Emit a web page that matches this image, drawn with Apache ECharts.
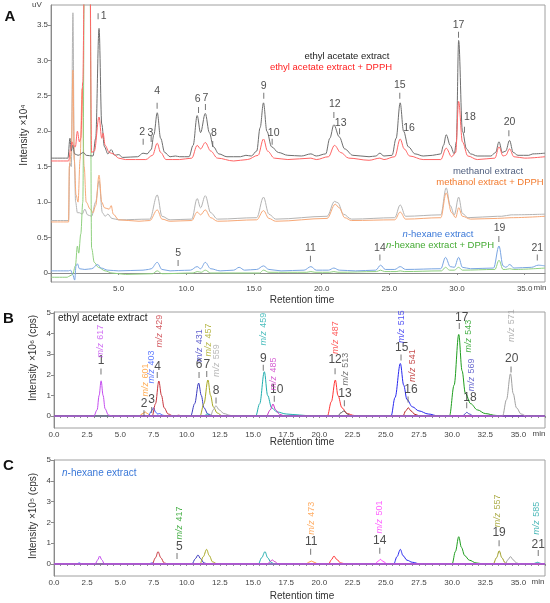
<!DOCTYPE html>
<html><head><meta charset="utf-8">
<script src="https://cdn.jsdelivr.net/npm/echarts@6/dist/echarts.min.js"></script>
<style>html,body{margin:0;padding:0;background:#fff}#c{width:550px;height:603px}</style>
</head><body><div id="c"></div>
<script>
// ---------- Panel A: UV chromatograms (retention time min, intensity x10^4, offsets as drawn) ----------
const A_EA = [[0,1.62],[1.25,1.62],[1.4,1.9],[1.5,1.72],[1.6,1.8],[1.75,1.68],[2.0,1.66],[2.4,1.7],[2.6,1.66],[3.1,1.65],[3.3,1.9],[3.55,3.45],[3.75,2.1],[3.95,1.78],[4.2,1.68],[4.45,1.74],[4.7,1.66],[5.0,1.67],[5.3,1.63],[6.4,1.64],[6.8,1.69],[7.1,1.68],[7.4,1.74],[7.6,1.95],[7.85,2.26],[8.1,1.9],[8.4,1.7],[8.8,1.64],[9.2,1.65],[9.5,1.64],[10.2,1.64],[10.5,1.8],[10.8,2.22],[11.05,1.98],[11.4,2.25],[11.7,1.98],[12.0,1.78],[12.4,1.68],[13.0,1.64],[14.0,1.64],[14.4,1.66],[14.8,1.65],[15.2,1.72],[15.45,2.05],[15.7,2.40],[15.95,2.0],[16.3,1.78],[16.8,1.7],[17.5,1.66],[18.5,1.65],[19.2,1.68],[19.6,1.65],[20.3,1.68],[20.6,1.9],[20.9,2.09],[21.3,1.92],[21.7,1.75],[22.3,1.66],[23.5,1.64],[24.0,1.65],[24.3,1.69],[24.6,1.65],[25.2,1.66],[25.5,1.9],[25.8,2.40],[26.05,2.0],[26.4,1.78],[26.9,1.68],[27.5,1.65],[28.2,1.66],[28.8,1.68],[29.0,1.8],[29.2,1.95],[29.5,1.8],[29.8,1.68],[29.95,1.85],[30.12,3.28],[30.4,2.0],[30.7,1.75],[31.0,1.68],[31.5,1.65],[32.5,1.65],[32.85,1.7],[33.1,1.85],[33.35,1.7],[33.6,1.72],[33.88,1.87],[34.15,1.7],[34.5,1.66],[35.3,1.66],[35.6,1.68],[36.5,1.69]];
const A_EA_DPPH = [[0,1.58],[1.3,1.58],[1.45,1.75],[1.55,1.85],[1.65,1.8],[1.8,1.78],[1.95,2.0],[2.1,1.85],[2.2,1.9],[2.35,2.7],[2.47,4.3],[2.88,4.3],[3.0,1.7],[3.2,1.72],[3.55,2.2],[3.75,1.9],[3.85,1.97],[4.0,1.8],[4.3,1.7],[4.6,1.68],[5.0,1.62],[5.5,1.6],[7.0,1.6],[7.5,1.66],[7.85,1.83],[8.1,1.7],[8.5,1.6],[9.5,1.6],[10.4,1.62],[10.8,1.8],[11.05,1.75],[11.4,1.84],[11.8,1.72],[12.3,1.62],[13.5,1.58],[14.5,1.6],[15.3,1.66],[15.7,1.89],[16.0,1.72],[16.5,1.62],[17.5,1.6],[19.2,1.62],[19.6,1.6],[20.5,1.64],[20.95,1.8],[21.4,1.7],[22.0,1.62],[23.5,1.59],[24.3,1.62],[24.6,1.6],[25.4,1.64],[25.8,1.89],[26.1,1.75],[26.5,1.65],[27.5,1.6],[28.8,1.6],[29.2,1.76],[29.6,1.64],[29.9,1.7],[30.12,2.42],[30.4,1.85],[30.8,1.65],[31.5,1.6],[32.8,1.62],[33.1,1.78],[33.4,1.65],[33.6,1.66],[33.88,1.75],[34.2,1.64],[35.0,1.62],[36.5,1.64]];
const A_MEOH = [[0,0.74],[1.3,0.74],[1.38,1.55],[1.5,1.5],[1.62,3.67],[1.72,1.6],[1.82,1.0],[1.95,0.85],[2.1,0.85],[2.3,0.83],[2.5,0.9],[2.7,0.82],[3.0,0.8],[3.3,1.0],[3.55,1.3],[3.8,0.85],[4.0,0.8],[4.2,0.83],[4.5,0.77],[5.0,0.75],[7.3,0.76],[7.85,1.1],[8.2,0.8],[8.8,0.75],[10.4,0.76],[10.8,1.05],[11.05,0.92],[11.4,1.09],[11.8,0.85],[12.3,0.76],[15.2,0.78],[15.7,1.07],[16.1,0.83],[16.6,0.76],[20.4,0.8],[20.95,1.01],[21.2,0.99],[21.6,0.83],[22.2,0.76],[25.4,0.78],[25.8,0.96],[26.2,0.8],[28.8,0.82],[29.2,1.2],[29.5,0.95],[29.8,0.82],[30.12,1.07],[30.4,0.84],[30.8,0.78],[33.0,0.8],[33.3,0.8],[34.0,0.82],[36.5,0.83]];
const A_MEOH_DPPH = [[0,0.72],[1.3,0.72],[1.35,1.5],[1.5,1.7],[1.62,2.86],[1.72,1.6],[1.85,1.1],[2.0,1.0],[2.15,1.6],[2.3,2.6],[2.45,1.5],[2.6,1.0],[2.9,0.9],[3.1,0.85],[3.3,0.95],[3.55,1.38],[3.75,1.0],[3.95,0.92],[4.3,0.9],[4.45,0.95],[4.6,0.83],[5.0,0.75],[6.5,0.73],[7.3,0.74],[7.85,0.89],[8.2,0.76],[8.8,0.73],[10.4,0.74],[10.8,0.86],[11.05,0.82],[11.4,0.89],[11.8,0.78],[12.3,0.73],[15.2,0.75],[15.7,0.88],[16.1,0.77],[16.6,0.73],[20.4,0.77],[21.0,0.97],[21.3,0.92],[21.7,0.78],[22.2,0.74],[25.4,0.75],[25.8,0.86],[26.2,0.76],[28.8,0.78],[29.2,1.13],[29.6,0.85],[29.9,0.78],[30.12,0.92],[30.4,0.8],[31.0,0.76],[33.0,0.77],[34.0,0.78],[36.5,0.8]];
const A_HEX = [[0,0.03],[1.3,0.03],[1.45,0.04],[1.6,-0.02],[1.75,-0.1],[1.85,0.1],[1.95,0.13],[2.1,0.06],[2.5,0.05],[3.0,0.06],[3.45,0.12],[3.7,0.07],[4.2,0.04],[5.0,0.03],[6.8,0.04],[7.2,0.05],[7.4,0.06],[7.85,0.15],[8.2,0.05],[8.8,0.03],[9.4,0.035],[10.3,0.04],[10.8,0.09],[11.05,0.06],[11.4,0.15],[11.8,0.06],[12.5,0.03],[13.5,0.04],[13.9,0.08],[14.3,0.04],[15.2,0.05],[15.7,0.1],[16.1,0.05],[17.0,0.03],[18.7,0.04],[19.2,0.09],[19.6,0.04],[20.5,0.04],[20.9,0.07],[21.3,0.04],[22.5,0.03],[24.0,0.04],[24.35,0.11],[24.7,0.05],[25.4,0.05],[25.8,0.09],[26.2,0.05],[28.8,0.06],[29.15,0.22],[29.5,0.09],[29.8,0.08],[30.12,0.22],[30.4,0.08],[31.0,0.06],[32.7,0.07],[33.1,0.38],[33.4,0.1],[33.6,0.08],[33.9,0.12],[34.2,0.07],[35.5,0.08],[36.0,0.11],[36.5,0.1]];
const A_HEX_DPPH = [[0,-0.06],[1.2,-0.06],[1.4,-0.04],[1.6,-0.02],[1.8,0.1],[1.95,0.38],[2.05,0.28],[2.2,0.55],[2.35,1.0],[2.47,4.3],[2.88,4.3],[3.0,0.35],[3.2,0.15],[3.5,0.08],[4.0,0.03],[4.5,0.0],[5.5,-0.02],[7.5,-0.01],[7.85,0.03],[8.2,-0.01],[10.5,0.0],[10.8,0.02],[11.1,0.01],[11.4,0.04],[11.8,0.0],[15.4,0.0],[15.7,0.04],[16.1,0.01],[18.9,0.01],[19.2,0.02],[19.5,0.01],[20.6,0.01],[20.9,0.02],[21.2,0.01],[24.05,0.02],[24.35,0.04],[24.65,0.02],[25.5,0.02],[25.8,0.03],[26.1,0.02],[28.85,0.03],[29.15,0.08],[29.45,0.04],[29.8,0.04],[30.12,0.08],[30.4,0.04],[32.8,0.05],[33.1,0.18],[33.4,0.05],[33.6,0.05],[33.9,0.06],[34.2,0.05],[36.5,0.07]];

const A_PEAK_LABELS = [['1',3.9,3.62],['2',6.73,1.99],['3',7.35,1.98],['4',7.84,2.56],['5',9.39,0.28],['6',10.84,2.45],['7',11.41,2.47],['8',12.03,1.97],['9',15.72,2.64],['10',16.45,1.98],['11',19.17,0.35],['12',20.97,2.38],['13',21.4,2.12],['14',24.3,0.35],['15',25.77,2.65],['16',26.45,2.04],['17',30.11,3.5],['18',30.95,2.2],['19',33.14,0.63],['20',33.88,2.13],['21',35.93,0.35]];
const A_PEAK_TICKS = [[3.48,3.62],[6.81,1.85],[7.4,1.89],[7.84,2.36],[9.39,0.14],[10.9,2.3],[11.41,2.34],[11.95,1.82],[15.72,2.5],[16.34,1.85],[19.17,0.2],[20.9,2.23],[21.32,2.0],[24.3,0.22],[25.77,2.5],[30.11,3.36],[30.55,2.02],[33.09,0.48],[33.83,1.97],[35.93,0.22]];

// ---------- Panel B: ethyl acetate extract EICs (x10^6 cps) ----------
const B_MZ617 = [[0,0],[3.0,0],[3.25,0.3],[3.4,1.0],[3.55,1.71],[3.7,1.0],[3.85,0.35],[4.1,0.05],[4.4,0],[37,0]];
const B_MZ601 = [[0,0],[6.4,0],[6.7,0.12],[6.86,0.2],[7.05,0.12],[7.3,0],[37,0]];
const B_MZ403 = [[0,0],[7.1,0],[7.35,0.25],[7.5,0.4],[7.65,0.2],[7.8,0.1],[7.95,0.12],[8.2,0.04],[8.5,0],[37,0]];
const B_MZ429 = [[0,0],[7.4,0],[7.65,0.6],[7.9,1.7],[8.1,1.0],[8.3,0.4],[8.6,0.1],[9.0,0],[9.4,0.04],[9.7,0],[37,0]];
const B_MZ431 = [[0,0],[10.3,0],[10.6,0.6],[10.9,1.6],[11.1,1.0],[11.3,0.4],[11.6,0.1],[12.0,0],[37,0]];
const B_MZ457 = [[0,0],[11.0,0],[11.3,0.6],[11.6,1.75],[11.8,1.0],[12.0,0.45],[12.3,0.15],[12.7,0],[37,0]];
const B_MZ559 = [[0,0],[11.8,0],[12.0,0.3],[12.2,0.5],[12.45,0.3],[12.8,0.12],[13.3,0.03],[13.8,0],[37,0]];
const B_MZ459 = [[0,0],[11.3,0],[11.55,0.1],[11.8,0],[15.2,0],[15.5,0.6],[15.85,2.15],[16.1,1.0],[16.4,0.4],[16.8,0.2],[17.5,0.1],[18.5,0.05],[19.5,0],[37,0]];
const B_MZ485 = [[0,0],[16.0,0],[16.3,0.3],[16.5,0.58],[16.7,0.3],[17.0,0.08],[17.4,0],[37,0]];
const B_MZ487 = [[0,0],[20.6,0],[20.9,0.7],[21.2,1.75],[21.4,1.0],[21.7,0.4],[22.1,0.12],[22.6,0.03],[23.0,0],[37,0]];
const B_MZ513 = [[0,0],[21.4,0],[21.6,0.15],[21.85,0.25],[22.1,0.1],[22.4,0],[37,0]];
const B_MZ515 = [[0,0],[25.4,0],[25.7,0.9],[26.1,2.55],[26.35,1.5],[26.6,0.8],[27.0,0.45],[27.5,0.25],[28.2,0.1],[29.0,0],[37,0]];
const B_MZ541 = [[0,0],[26.3,0],[26.5,0.25],[26.7,0.4],[26.9,0.25],[27.2,0.08],[27.6,0],[37,0]];
const B_MZ543 = [[0,0],[29.8,0],[30.15,1.5],[30.5,3.96],[30.75,2.2],[31.0,1.1],[31.4,0.6],[31.9,0.3],[32.5,0.12],[33.3,0.03],[34.0,0],[37,0]];
const B_MZ569 = [[0,0],[30.8,0],[31.0,0.12],[31.1,0.18],[31.3,0.1],[31.6,0],[37,0]];
const B_MZ571 = [[0,0],[33.8,0],[34.1,0.8],[34.4,2.05],[34.6,1.1],[34.85,0.4],[35.2,0.1],[35.6,0],[37,0]];

const B_PEAK_LABELS = [['1',3.54,2.67],['2',6.78,0.6],['3',7.36,0.78],['4',7.81,2.39],['6',10.93,2.51],['7',11.51,2.51],['8',12.21,1.21],['9',15.77,2.77],['10',16.78,1.26],['12',21.18,2.72],['13',21.93,1.1],['15',26.2,3.33],['16',26.9,1.26],['17',30.72,4.77],['18',31.35,0.91],['20',34.49,2.8]];
const B_PEAK_TICKS = [[3.54,2.16],[6.78,0.14],[7.36,0.29],[7.78,1.99],[10.93,1.99],[11.51,2.04],[12.21,0.75],[15.77,2.35],[16.6,0.84],[21.18,2.18],[21.88,0.62],[26.15,2.84],[26.68,0.8],[30.54,4.37],[31.1,0.53],[34.44,2.26]];
const B_MZ_LABELS = [['617',3.54,3.64],['601',6.86,1.75],['403',7.36,2.38],['429',7.94,4.12],['431',11.0,3.42],['457',11.63,3.69],['559',12.21,2.69],['459',15.77,4.22],['485',16.53,2.04],['487',21.18,3.81],['513',22.0,2.28],['515',26.15,4.34],['541',27.0,2.45],['543',31.27,3.88],['569',31.48,2.0],['571',34.49,4.39]];

// ---------- Panel C: n-hexane extract EICs (x10^5 cps) ----------
const C_MZ617 = [[0,0],[3.1,0],[3.3,0.2],[3.44,0.38],[3.6,0.2],[3.8,0],[37,0]];
const C_MZ403 = [[0,0],[1.7,0],[1.9,0.05],[2.1,0],[7.1,0],[7.4,0.05],[7.7,0],[37,0]];
const C_MZ429 = [[0,0],[7.4,0],[7.65,0.3],[7.84,0.59],[8.05,0.3],[8.3,0.05],[8.6,0],[37,0]];
const C_MZ431 = [[0,0],[10.4,0],[10.65,0.25],[10.85,0.43],[11.05,0.25],[11.3,0.05],[11.6,0],[37,0]];
const C_MZ457 = [[0,0],[11.0,0],[11.25,0.35],[11.5,0.7],[11.7,0.4],[11.95,0.1],[12.3,0],[37,0]];
const C_MZ459 = [[0,0],[15.4,0],[15.65,0.3],[15.9,0.59],[16.1,0.3],[16.35,0.08],[16.6,0],[37,0]];
const C_MZ485 = [[0,0],[16.1,0],[16.3,0.12],[16.45,0.2],[16.6,0.12],[16.9,0],[37,0]];
const C_MZ473 = [[0,0],[19.0,0],[19.2,0.08],[19.4,0.14],[19.6,0.08],[19.9,0],[37,0]];
const C_MZ487 = [[0,0],[20.7,0],[20.9,0.2],[21.1,0.38],[21.3,0.22],[21.6,0.05],[22.0,0],[37,0]];
const C_MZ501 = [[0,0],[24.2,0],[24.4,0.12],[24.6,0.22],[24.8,0.12],[25.1,0],[37,0]];
const C_MZ515 = [[0,0],[25.6,0],[25.85,0.35],[26.1,0.7],[26.3,0.4],[26.6,0.18],[27.0,0.08],[27.6,0],[37,0]];
const C_MZ543 = [[0,0],[30.0,0],[30.25,0.6],[30.5,1.31],[30.7,0.8],[30.95,0.4],[31.3,0.18],[31.8,0.05],[32.4,0],[37,0]];
const C_MZ557 = [[0,0],[33.1,0],[33.35,0.3],[33.55,0.63],[33.75,0.3],[34.0,0.05],[34.3,0],[37,0]];
const C_MZ571 = [[0,0],[34.0,0],[34.2,0.2],[34.4,0.35],[34.6,0.2],[34.85,0.05],[35.1,0],[37,0]];
const C_MZ585 = [[0,0],[36.1,0],[36.3,0.05],[36.45,0.08],[36.6,0.04],[36.8,0],[37,0]];

const C_PEAK_LABELS = [['5',9.44,0.83],['11',19.38,1.07],['14',24.55,1.12],['19',33.54,1.48],['21',36.49,0.91]];
const C_PEAK_TICKS = [[9.27,0.38],[19.34,0.59],[24.55,0.63],[33.54,1.0],[36.49,0.53]];
const C_MZ_LABELS = [['417',9.44,1.97],['473',19.38,2.2],['501',24.55,2.26],['557',33.41,2.55],['585',36.38,2.2]];

// ---------- tick labels ----------
const A_X_TICKS = [5,10,15,20,25,30,35];
const A_Y_TICKS = [0,0.5,1,1.5,2,2.5,3,3.5];
const BC_X_TICKS = [0,2.5,5,7.5,10,12.5,15,17.5,20,22.5,25,27.5,30,32.5,35];
const BC_Y_TICKS = [0,1,2,3,4,5];

// ---------- styles ----------
const MZ_COLORS = {'617':'#c44cf0','601':'#ff9a30','403':'#3a5cff','429':'#c8343c','431':'#3a3ac0','457':'#a8a820','559':'#a8a8a8','459':'#20aeae','485':'#cc38c8','487':'#ff3434','513':'#505050','515':'#2828f0','541':'#b82222','543':'#1e9e1e','569':'#4646c4','571':'#a0a0a0','417':'#1e9e1e','473':'#ff9a40','501':'#ff38ff','557':'#9a9a1e','585':'#20a8a8'};
const FONT = 'Liberation Sans, Arial, sans-serif';

const chart = echarts.init(document.getElementById('c'), null, {renderer:'canvas'});

function traceLine(data, color, gi, width) {
  return {type:'line', xAxisIndex:gi, yAxisIndex:gi, data:data, showSymbol:false, symbol:'none',
    smooth:0.35, smoothMonotone:'x', clip:true, silent:true, animation:false,
    lineStyle:{color:color, width:width||1}, z:2};
}
function numLabels(arr, gi, size) {
  return {type:'scatter', xAxisIndex:gi, yAxisIndex:gi, silent:true, animation:false, z:5,
    data:arr.map(d=>({value:[d[1],d[2]], name:d[0]})), symbolSize:1, itemStyle:{color:'rgba(0,0,0,0)'},
    label:{show:true, position:'inside', formatter:p=>p.name, fontSize:size, color:'#222', fontFamily:FONT}};
}
function tickMarks(arr, gi, len) {
  return {type:'scatter', xAxisIndex:gi, yAxisIndex:gi, silent:true, animation:false, z:5,
    data:arr, symbol:'rect', symbolSize:[1,len], itemStyle:{color:'#555'}};
}
function mzLabels(arr, gi) {
  return {type:'scatter', xAxisIndex:gi, yAxisIndex:gi, silent:true, animation:false, z:5,
    data:arr.map(d=>({value:[d[1],d[2]], name:d[0]})), symbolSize:1, itemStyle:{color:'rgba(0,0,0,0)'},
    label:{show:true, position:'inside', rotate:90,
      formatter:p=>'{i|m/z} {n|'+p.name+'}',
      rich:{i:{fontStyle:'italic', fontSize:9, fontFamily:FONT}, n:{fontSize:9, fontFamily:FONT}},
      color:'inherit'}};
}

const series = [
  traceLine(A_MEOH,'#b4b4b4',0), traceLine(A_MEOH_DPPH,'#f7a877',0),
  traceLine(A_HEX_DPPH,'#8fd07f',0), traceLine(A_HEX,'#79a5e2',0),
  traceLine(A_EA,'#6e6e6e',0), traceLine(A_EA_DPPH,'#ff6464',0),
  numLabels(A_PEAK_LABELS,0,10.5), tickMarks(A_PEAK_TICKS,0,6)
];
const B_SETS = [['601',B_MZ601],['403',B_MZ403],['429',B_MZ429],['431',B_MZ431],['457',B_MZ457],['559',B_MZ559],['459',B_MZ459],['485',B_MZ485],['487',B_MZ487],['513',B_MZ513],['515',B_MZ515],['541',B_MZ541],['543',B_MZ543],['569',B_MZ569],['571',B_MZ571],['617',B_MZ617]];
B_SETS.forEach(s=>series.push(traceLine(s[1], MZ_COLORS[s[0]], 1)));
const C_SETS = [['403',C_MZ403],['429',C_MZ429],['431',C_MZ431],['457',C_MZ457],['459',C_MZ459],['473',C_MZ473],['487',C_MZ487],['501',C_MZ501],['515',C_MZ515],['543',C_MZ543],['557',C_MZ557],['571',C_MZ571],['585',C_MZ585],['485',C_MZ485],['617',C_MZ617]];
C_SETS.forEach(s=>series.push(traceLine(s[1], MZ_COLORS[s[0]], 2)));

function mzSeries(arr, gi) {
  return arr.map(d=>{
    const s = mzLabels([d], gi);
    s.label.color = MZ_COLORS[d[0]];
    s.label.rich.i.color = MZ_COLORS[d[0]];
    s.label.rich.n.color = MZ_COLORS[d[0]];
    return s;
  });
}
series.push(numLabels(B_PEAK_LABELS,1,12), tickMarks(B_PEAK_TICKS,1,6));
series.push(...mzSeries(B_MZ_LABELS,1));
series.push(numLabels(C_PEAK_LABELS,2,12), tickMarks(C_PEAK_TICKS,2,6));
series.push(...mzSeries(C_MZ_LABELS,2));

const axisCol = '#8a8a8a';
const lblStyle = {fontSize:8, color:'#444', fontFamily:FONT, margin:3};
function xAx(gi, min, max, ticks, minor) {
  return {type:'value', gridIndex:gi, min:min, max:max, splitLine:{show:false},
    axisLine:{lineStyle:{color:axisCol}},
    axisTick:{show:true, customValues:minor||ticks, length:2, lineStyle:{color:axisCol}},
    axisLabel:Object.assign({customValues:ticks, formatter:v=>v.toFixed(1)}, lblStyle)};
}
function yAx(gi, min, max, ticks, fmt) {
  return {type:'value', gridIndex:gi, min:min, max:max, splitLine:{show:false},
    axisLine:{show:true, lineStyle:{color:axisCol}},
    axisTick:{show:true, customValues:ticks, length:3, lineStyle:{color:axisCol}},
    axisLabel:Object.assign({customValues:ticks, formatter:fmt}, lblStyle)};
}
const BC_MINOR = [];
for (let i = 0; i <= 74; i++) BC_MINOR.push(i*0.5);

function txt(x, y, text, opt) {
  return {type:'text', x:x, y:y, rotation:(opt&&opt.rot)||0, silent:true, z:10,
    style:Object.assign({text:text, fontSize:10, fill:'#222', fontFamily:FONT, align:'center', verticalAlign:'middle'}, opt&&opt.style||{})};
}

const option = {
  backgroundColor:'#fff',
  animation:false,
  grid:[
    {left:51, right:5, top:5, height:277, show:true, borderColor:'#a0a0a0', borderWidth:1, backgroundColor:'transparent'},
    {left:54, right:5, top:312, height:116, show:true, borderColor:'#a0a0a0', borderWidth:1, backgroundColor:'transparent'},
    {left:54, right:5, top:460, height:116, show:true, borderColor:'#a0a0a0', borderWidth:1, backgroundColor:'transparent'}
  ],
  xAxis:[ xAx(0,0,36.5,A_X_TICKS), xAx(1,0,37,BC_X_TICKS,BC_MINOR), xAx(2,0,37,BC_X_TICKS,BC_MINOR) ],
  yAxis:[ yAx(0,-0.127,3.78,A_Y_TICKS,v=>v===0?'0':v.toFixed(1)), yAx(1,-0.58,5.05,BC_Y_TICKS,v=>String(v)), yAx(2,-0.58,5.0,BC_Y_TICKS,v=>String(v)) ],
  series:series,
  graphic:[
    txt(10,17,'A',{style:{fontSize:15, fontWeight:'bold', fill:'#111'}}),
    txt(8.5,319,'B',{style:{fontSize:15, fontWeight:'bold', fill:'#111'}}),
    txt(8.5,466,'C',{style:{fontSize:15, fontWeight:'bold', fill:'#111'}}),
    txt(37,5,'uV',{style:{fontSize:8, fill:'#444'}}),
    txt(24,135,'Intensity \u00d710\u2074',{rot:Math.PI/2, style:{fontSize:10, fill:'#333'}}),
    txt(33,358,'Intensity \u00d710\u2076 (cps)',{rot:Math.PI/2, style:{fontSize:10, fill:'#333'}}),
    txt(33,516,'Intensity \u00d710\u2075 (cps)',{rot:Math.PI/2, style:{fontSize:10, fill:'#333'}}),
    txt(302,300,'Retention time',{style:{fontSize:10, fill:'#333'}}),
    txt(302,442,'Retention time',{style:{fontSize:10, fill:'#333'}}),
    txt(302,596,'Retention time',{style:{fontSize:10, fill:'#333'}}),
    txt(540,288,'min',{style:{fontSize:8, fill:'#444'}}),
    txt(539,434,'min',{style:{fontSize:8, fill:'#444'}}),
    txt(538,582,'min',{style:{fontSize:8, fill:'#444'}}),
    txt(347,56,'ethyl acetate extract',{style:{fontSize:9.5, fill:'#222'}}),
    txt(331,67,'ethyl acetate extract + DPPH',{style:{fontSize:9.5, fill:'#ff1f1f'}}),
    txt(488,171,'methanol extract',{style:{fontSize:9.5, fill:'#4f5e7e'}}),
    txt(490,182,'methanol extract + DPPH',{style:{fontSize:9.5, fill:'#f27b2f'}}),
    txt(438,234,'{i|n}-hexane extract',{style:{fontSize:9.5, fill:'#3a78d8', rich:{i:{fontStyle:'italic', fontSize:9.5, fill:'#3a78d8', fontFamily:FONT}}}}),
    txt(440,245,'{i|n}-hexane extract + DPPH',{style:{fontSize:9.5, fill:'#44aa33', rich:{i:{fontStyle:'italic', fontSize:9.5, fill:'#44aa33', fontFamily:FONT}}}}),
    txt(58,318,'ethyl acetate extract',{style:{fontSize:10, fill:'#222', align:'left'}}),
    txt(62,473,'{i|n}-hexane extract',{style:{fontSize:10, fill:'#3a78d8', align:'left', rich:{i:{fontStyle:'italic', fontSize:10, fill:'#3a78d8', fontFamily:FONT}}}})
  ]
};
chart.setOption(option);
</script></body></html>
